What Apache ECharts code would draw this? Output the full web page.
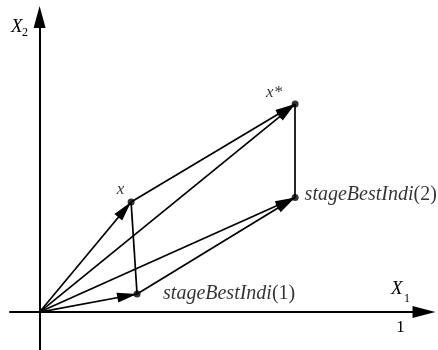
<!DOCTYPE html>
<html>
<head>
<meta charset="utf-8">
<script src="https://cdn.jsdelivr.net/npm/echarts@6/dist/echarts.min.js"></script>
<style>
  html, body { margin: 0; padding: 0; background: #fff; }
  #chart { width: 438px; height: 350px; }
</style>
</head>
<body>
<div id="chart"></div>
<script>
// Points in the (X1, X2) plane
const pointNames = ['x', 'x*', 'stageBestIndi(2)', 'stageBestIndi(1)'];
const pointX = [0.2535, 0.708, 0.708, 0.27];
const pointY = [0.305, 0.576, 0.317, 0.05];

// Segments as [fromIndex, toIndex]; -1 stands for the origin
const arrowSegments = [[-1, 0], [-1, 1], [-1, 2], [-1, 3], [0, 1], [3, 2]];
const plainSegments = [[0, 3], [2, 1]];

// Axis tick labels
const xTickValues = [1];

function pt(i) { return i < 0 ? [0, 0] : [pointX[i], pointY[i]]; }

const SERIF = '"Liberation Serif", "Times New Roman", serif';

// Label placement for each point (offset from the dot centre)
const labelPlacement = [
  { offset: [-10.5, -12.5], align: 'center', size: 17 },
  { offset: [-21, -12], align: 'center', size: 17 },
  { offset: [9.5, -2.5], align: 'left', size: 20 },
  { offset: [26, 0], align: 'left', size: 20 }
];

function labelText(name) {
  const m = name.match(/^(.*?)(\(\d\))$/);
  if (m) return '{i|' + m[1] + '}{n|' + m[2] + '}';
  return '{i|' + name + '}';
}

const pointData = pointNames.map(function (name, i) {
  const p = labelPlacement[i];
  return {
    name: name,
    value: [pointX[i], pointY[i]],
    label: {
      show: true,
      position: 'inside',
      offset: p.offset,
      align: p.align,
      verticalAlign: 'middle',
      formatter: labelText(name),
      rich: {
        i: { fontFamily: SERIF, fontStyle: 'italic', fontSize: p.size, color: '#000' },
        n: { fontFamily: SERIF, fontStyle: 'normal', fontSize: p.size, color: '#000' }
      }
    }
  };
});

// Arrowhead whose tip sits on the segment end point
const ARROW = 'path://M5 0 M5 20 L10 40 L0 40 Z';

const chart = echarts.init(document.getElementById('chart'), null, { renderer: 'canvas' });
chart.setOption({
  animation: false,
  backgroundColor: '#fff',
  grid: { left: 10, right: 14, top: 17, bottom: 0, containLabel: false, outerBoundsMode: 'none' },
  xAxis: {
    type: 'value',
    min: -0.082,
    max: 1.0651,
    position: 'bottom',
    // lift the axis from the grid bottom up to the X2 = 0 line
    offset: -38,
    splitLine: { show: false },
    axisTick: { show: false },
    axisLine: {
      onZero: false,
      lineStyle: { color: '#000', width: 2 },
      symbol: ['none', 'triangle'],
      symbolSize: [12, 23]
    },
    axisLabel: {
      customValues: xTickValues,
      color: '#000',
      fontFamily: SERIF,
      fontSize: 17,
      margin: 7,
      formatter: function (v) { return String(v); }
    }
  },
  yAxis: {
    type: 'value',
    min: -0.105,
    max: 0.817,
    splitLine: { show: false },
    axisTick: { show: false },
    axisLabel: { show: false },
    axisLine: {
      onZero: true,
      lineStyle: { color: '#000', width: 2 },
      symbol: ['none', 'triangle'],
      symbolSize: [12, 22]
    }
  },
  graphic: [
    { type: 'text', left: 11, top: 17, style: { text: 'X', fontFamily: SERIF, fontStyle: 'italic', fontSize: 19, fill: '#000' } },
    { type: 'text', left: 22, top: 27, style: { text: '2', fontFamily: SERIF, fontSize: 12, fill: '#000' } },
    { type: 'text', left: 391, top: 279, style: { text: 'X', fontFamily: SERIF, fontStyle: 'italic', fontSize: 19, fill: '#000' } },
    { type: 'text', left: 404, top: 293, style: { text: '1', fontFamily: SERIF, fontSize: 12, fill: '#000' } }
  ],
  series: [
    {
      type: 'lines',
      coordinateSystem: 'cartesian2d',
      symbol: ['none', ARROW],
      symbolSize: [0, [10, 40]],
      lineStyle: { color: '#000', width: 1.7, opacity: 1 },
      silent: true,
      data: arrowSegments.map(function (s) { return { coords: [pt(s[0]), pt(s[1])] }; })
    },
    {
      type: 'lines',
      coordinateSystem: 'cartesian2d',
      symbol: ['none', 'none'],
      lineStyle: { color: '#000', width: 1.7, opacity: 1 },
      silent: true,
      data: plainSegments.map(function (s) { return { coords: [pt(s[0]), pt(s[1])] }; })
    },
    {
      type: 'scatter',
      symbol: 'circle',
      symbolSize: 7,
      itemStyle: { color: '#000' },
      z: 5,
      data: pointData
    }
  ]
});
</script>
</body>
</html>
